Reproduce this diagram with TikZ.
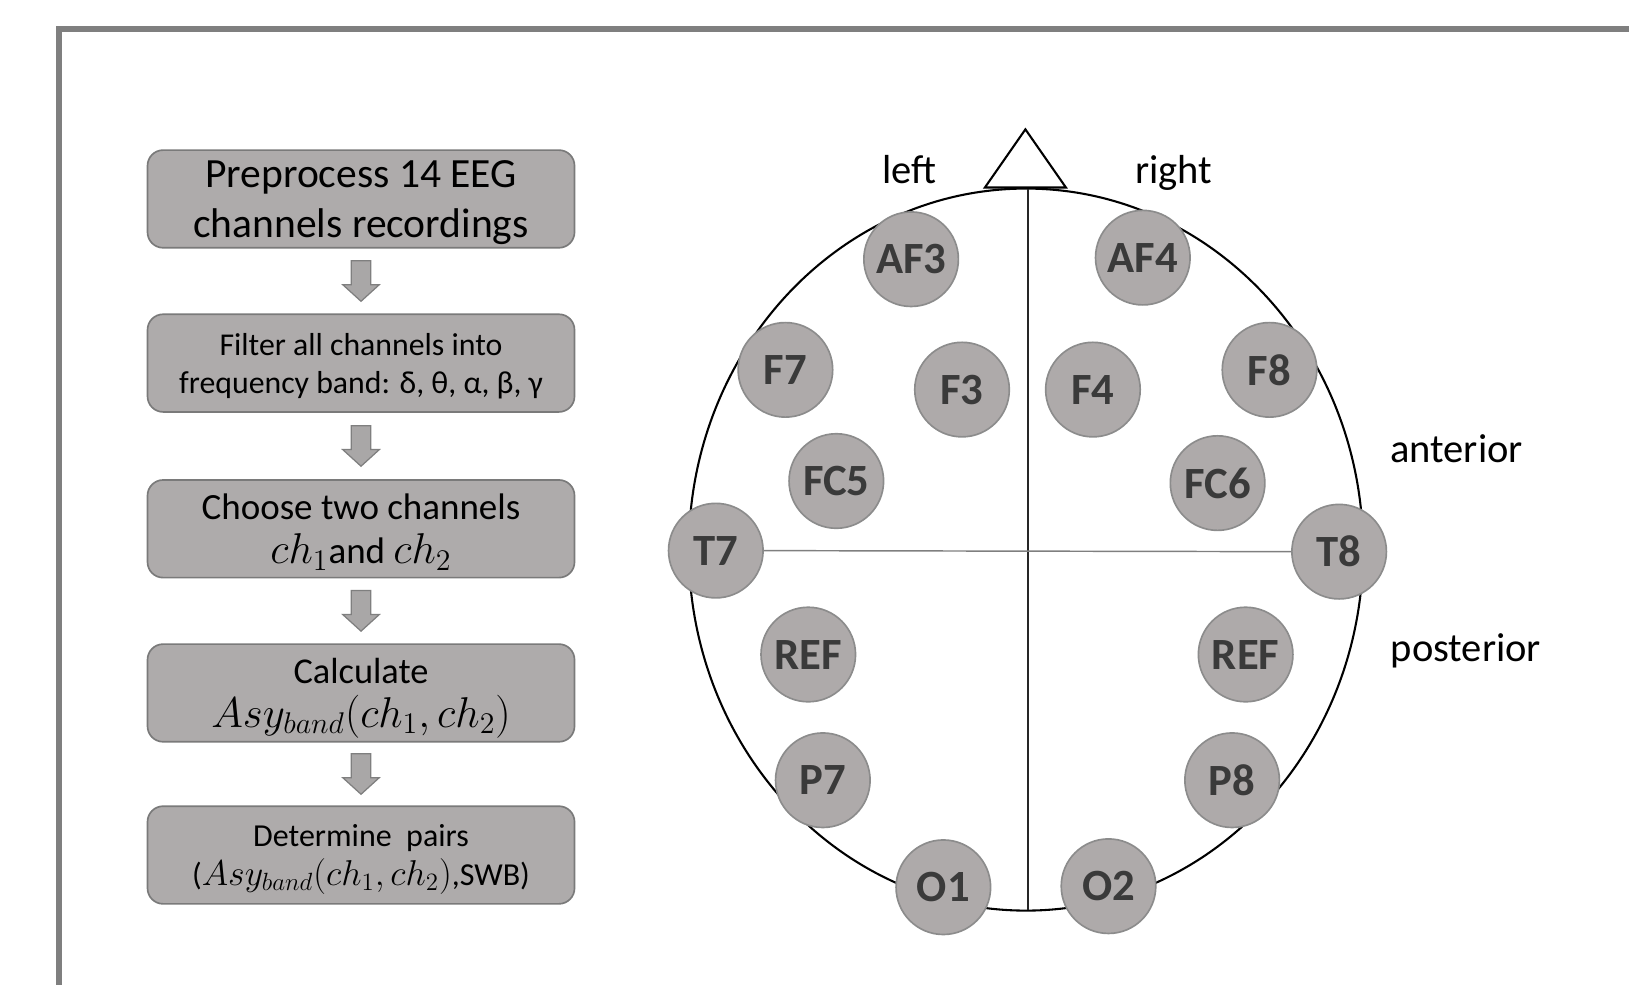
\documentclass[tikz,border=0pt]{standalone}
\usepackage{fontspec}
\setmainfont{Carlito}
\usetikzlibrary{calc}
\definecolor{boxfill}{HTML}{AEABAB}
\definecolor{boxline}{HTML}{7A7A7A}
\definecolor{elfill}{HTML}{AEAAAA}
\definecolor{elline}{HTML}{8C8C8C}
\definecolor{eltext}{HTML}{3A3A3A}
\definecolor{frame}{HTML}{7F7F7F}
\definecolor{arrfill}{HTML}{A9A7A7}
\newcommand\fsz[1]{\fontsize{#1}{1.2\dimexpr #1\relax}\selectfont}
\newcommand\mth[2]{{\fontsize{#1}{#1}\selectfont$#2$}}
\tikzset{
  flowbox/.style={draw=boxline, line width=0.8pt, fill=boxfill, rounded corners=7.5pt,
    minimum width=205.5pt, minimum height=47pt, align=center, inner sep=2pt, text=black,
    text depth=0pt},
  electrode/.style={circle, draw=elline, line width=0.8pt, fill=elfill, minimum size=45.5pt,
    inner sep=0pt, text=eltext, font=\fsz{21.5pt}\bfseries},
  sidelabel/.style={anchor=base, font=\fsz{19.5pt}, inner sep=0pt},
  blockarr/.style={draw=frame, line width=0.6pt, fill=arrfill},
}
\newcommand\downarrowbetween[2]{%
  \coordinate (m) at ($(#1.south)!0.5!(#2.north)$);
  \draw[blockarr] ($(m)+(-9.3,-19.5)$) -- ($(m)+(9.3,-19.5)$) -- ($(m)+(9.3,3.5)$)
    -- ($(m)+(17.6,3.5)$) -- ($(m)+(0,19.5)$) -- ($(m)+(-17.6,3.5)$)
    -- ($(m)+(-9.3,3.5)$) -- cycle;}
\begin{document}
\begin{tikzpicture}[x=0.5pt,y=-0.5pt]
\useasboundingbox (0,0) rectangle (1568,947.2);
\begin{scope}
\clip (0,0) rectangle (1568,947.2);
\draw[frame, line width=2.9pt] (57,1100) -- (57,28) -- (1700,28);
\end{scope}

% flow chart
\node[flowbox, font=\fsz{20pt}] (b1) at (347.5,191.5) {Preprocess 14 EEG\\channels recordings};
\node[flowbox, font=\fsz{15.3pt}] (b2) at (347.5,349.5) {Filter all channels into\\frequency band: δ, θ, α, β, γ};
\node[flowbox, font=\fsz{17.8pt}] (b3) at (347.5,509) {Choose two channels\\\mth{19.5pt}{ch_1}and \mth{19.5pt}{ch_2}};
\node[flowbox, font=\fsz{17.5pt}] (b4) at (347.5,667) {Calculate\\\mth{20.3pt}{Asy_{band}(ch_1,ch_2)}};
\node[flowbox, font=\fsz{15.4pt}] (b5) at (347.5,823) {Determine\ \ pairs\\(\mth{17.8pt}{Asy_{band}(ch_1,ch_2)},SWB)};
\downarrowbetween{b1}{b2}
\downarrowbetween{b2}{b3}
\downarrowbetween{b3}{b4}
\downarrowbetween{b4}{b5}

% head
\draw[black, line width=1pt] (987.5,529) ellipse [x radius=162.25pt, y radius=173.75pt];
\coordinate (vtop) at (989.5,182);
\coordinate (vbot) at (989.5,876);
\draw[black!85, line width=0.7pt] (vtop) -- (vbot);
\coordinate (nosel) at (948,180.5);
\coordinate (noser) at (1026,180.5);
\coordinate (nosetip) at (987,124.5);
\draw[black, line width=1pt, fill=white, line join=miter] (nosel) -- (nosetip) -- (noser) -- cycle;

\node[electrode] (AF3) at (877,249.5) {AF3};
\node[electrode] (AF4) at (1100,248) {AF4};
\node[electrode] (F7) at (756,356) {F7};
\node[electrode] (F3) at (926,375) {F3};
\node[electrode] (F4) at (1052,375) {F4};
\node[electrode] (F8) at (1222,356) {F8};
\node[electrode] (FC5) at (805,463) {FC5};
\node[electrode] (FC6) at (1172,465) {FC6};
\node[electrode] (T7) at (689,530) {T7};
\node[electrode] (T8) at (1289,531) {T8};
\node[electrode] (REFL) at (778,630) {REF};
\node[electrode] (REFR) at (1199,630) {REF};
\node[electrode] (P7) at (792,751) {P7};
\node[electrode] (P8) at (1186,751) {P8};
\node[electrode] (O1) at (908,854) {O1};
\node[electrode] (O2) at (1067,853) {O2};
\draw[frame, line width=0.7pt] (T7.east) -- (T8.west);

\node[sidelabel] (left) at (875,176.5) {left};
\node[sidelabel] (right) at (1130,176.5) {right};
\node[sidelabel] (ant) at (1402,445) {anterior};
\node[sidelabel] (post) at (1411,637) {posterior};
\end{tikzpicture}
\end{document}
